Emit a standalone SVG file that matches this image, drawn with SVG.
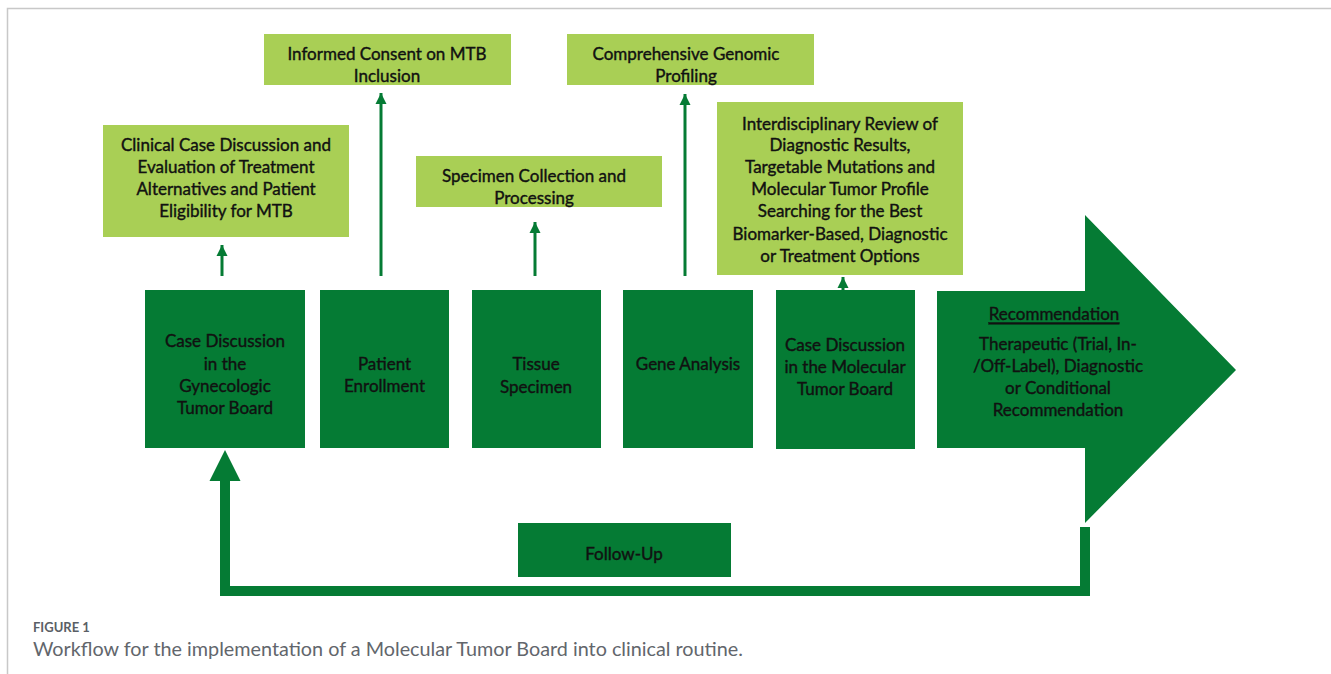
<svg xmlns="http://www.w3.org/2000/svg" width="1331" height="674" viewBox="0 0 1331 674">
<defs>
<style>
.dk{fill:#057b34}
.lt{fill:#a9cf55}
.t{font-family:Lato,"Liberation Sans",sans-serif;font-size:17px;fill:#111;stroke:#111;stroke-width:0.4;text-anchor:middle;dominant-baseline:central}
.stem{stroke:#057b34;stroke-width:3;fill:none}
.cap1{font-family:Lato,"Open Sans",sans-serif;font-size:13px;font-weight:bold;fill:#5a5f66}
.cap2{font-family:Lato,"Open Sans",sans-serif;font-size:19.8px;fill:#62666c}
</style>
<marker id="ah" markerUnits="userSpaceOnUse" markerWidth="12" markerHeight="12" viewBox="0 0 12 12" refX="11" refY="6" orient="auto">
<path d="M0,0.5 L11,6 L0,11.5 Z" fill="#057b34"/>
</marker>
</defs>
<rect width="1331" height="674" fill="#fff"/>
<path d="M7.5,674 V8.5 H1331" fill="none" stroke="#c8c8c8" stroke-width="1.5"/>

<g id="connectors">
<line class="stem" x1="222" y1="276" x2="222" y2="245" marker-end="url(#ah)"/>
<line class="stem" x1="381" y1="276" x2="381" y2="93" marker-end="url(#ah)"/>
<line class="stem" x1="535" y1="276" x2="535" y2="222" marker-end="url(#ah)"/>
<line class="stem" x1="685" y1="276" x2="685" y2="94" marker-end="url(#ah)"/>
<line class="stem" x1="843" y1="290" x2="843" y2="277" marker-end="url(#ah)"/>
<path class="dk" d="M1080,527 H1090 V596 H220 V481 H209.5 L225,450 L240.5,481 H230 V586 H1080 Z"/>
</g>

<g id="n-clinical">
<rect class="lt" x="103" y="125" width="246" height="112"/>
<text class="t" x="226" y="144">Clinical Case Discussion and</text>
<text class="t" x="226" y="166">Evaluation of Treatment</text>
<text class="t" x="226" y="188">Alternatives and Patient</text>
<text class="t" x="226" y="210">Eligibility for MTB</text>
</g>
<g id="n-consent">
<rect class="lt" x="264" y="34" width="247" height="51"/>
<text class="t" x="387" y="53">Informed Consent on MTB</text>
<text class="t" x="387" y="75">Inclusion</text>
</g>
<g id="n-collection">
<rect class="lt" x="416" y="156" width="246" height="51"/>
<text class="t" x="534" y="175">Specimen Collection and</text>
<text class="t" x="534" y="197">Processing</text>
</g>
<g id="n-profiling">
<rect class="lt" x="567" y="34" width="247" height="51"/>
<text class="t" x="686" y="53">Comprehensive Genomic</text>
<text class="t" x="686" y="75">Profiling</text>
</g>
<g id="n-review">
<rect class="lt" x="717" y="102" width="246" height="173"/>
<text class="t" x="840" y="123">Interdisciplinary Review of</text>
<text class="t" x="840" y="144">Diagnostic Results,</text>
<text class="t" x="840" y="166">Targetable Mutations and</text>
<text class="t" x="840" y="188">Molecular Tumor Profile</text>
<text class="t" x="840" y="210">Searching for the Best</text>
<text class="t" x="840" y="233">Biomarker-Based, Diagnostic</text>
<text class="t" x="840" y="255">or Treatment Options</text>
</g>

<g id="n-gyn">
<rect class="dk" x="145" y="290" width="160" height="158"/>
<text class="t" x="225" y="340">Case Discussion</text>
<text class="t" x="225" y="363">in the</text>
<text class="t" x="225" y="385">Gynecologic</text>
<text class="t" x="225" y="407">Tumor Board</text>
</g>
<g id="n-enroll">
<rect class="dk" x="320" y="290" width="129" height="158"/>
<text class="t" x="384.5" y="363">Patient</text>
<text class="t" x="384.5" y="385">Enrollment</text>
</g>
<g id="n-tissue">
<rect class="dk" x="472" y="290" width="129" height="158"/>
<text class="t" x="536" y="363">Tissue</text>
<text class="t" x="536" y="386">Specimen</text>
</g>
<g id="n-gene">
<rect class="dk" x="623" y="290" width="130" height="158"/>
<text class="t" x="688" y="363">Gene Analysis</text>
</g>
<g id="n-mtb">
<rect class="dk" x="776" y="290" width="139" height="159"/>
<text class="t" x="845" y="344">Case Discussion</text>
<text class="t" x="845" y="366">in the Molecular</text>
<text class="t" x="845" y="388">Tumor Board</text>
</g>
<g id="n-recommendation">
<path class="dk" d="M937,291 H1085 V215 L1236,370 L1085,523 V448 H937 Z"/>
<text class="t" x="1054" y="313" text-decoration="underline">Recommendation</text>
<text class="t" x="1058" y="343">Therapeutic (Trial, In-</text>
<text class="t" x="1058" y="365">/Off-Label), Diagnostic</text>
<text class="t" x="1058" y="387">or Conditional</text>
<text class="t" x="1058" y="409">Recommendation</text>
</g>
<g id="n-followup">
<rect class="dk" x="518" y="523" width="213" height="54"/>
<text class="t" x="624" y="553">Follow-Up</text>
</g>

<text class="cap1" x="33" y="632">FIGURE 1</text>
<text class="cap2" x="33" y="656">Workflow for the implementation of a Molecular Tumor Board into clinical routine.</text>
</svg>
